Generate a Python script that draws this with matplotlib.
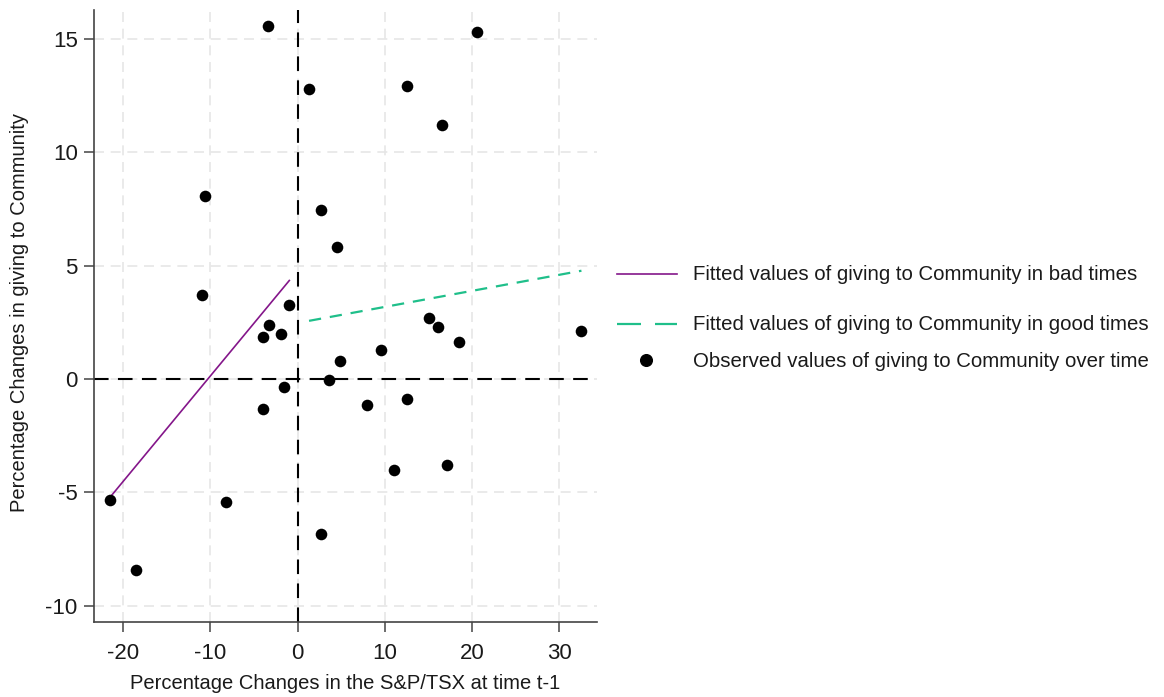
import matplotlib
matplotlib.use("Agg")
import matplotlib.pyplot as plt
from matplotlib.lines import Line2D

plt.rcParams['font.family'] = ['Liberation Sans', 'DejaVu Sans']
plt.rcParams['axes.unicode_minus'] = False

# Observed data: % change in S&P/TSX (t-1) vs % change in giving to Community
tsx_change = [-3.35, 1.32, -10.57, 2.69, -10.99, -0.94, -3.30, -3.96, -1.89, -1.55,
              -3.99, -21.47, -8.17, -18.52, 2.66, 3.57, 20.58, 12.59, 16.61, 4.49,
              15.04, 16.11, 18.56, 32.55, 9.61, 4.87, 7.97, 12.56, 11.03, 17.11]
giving_change = [15.58, 12.79, 8.07, 7.47, 3.72, 3.25, 2.38, 1.87, 2.01, -0.37,
                 -1.31, -5.35, -5.40, -8.40, -6.82, -0.06, 15.29, 12.94, 11.22, 5.81,
                 2.71, 2.28, 1.63, 2.13, 1.28, 0.81, -1.15, -0.87, -4.00, -3.78]

# Fitted lines (endpoints)
bad_fit_x = [-21.47, -0.94]
bad_fit_y = [-5.20, 4.35]
good_fit_x = [1.32, 32.55]
good_fit_y = [2.57, 4.78]

x_ticks = [-20, -10, 0, 10, 20, 30]
y_ticks = [-10, -5, 0, 5, 10, 15]

x_label = "Percentage Changes in the S&P/TSX at time t-1"
y_label = "Percentage Changes in giving to Community"
legend_labels = ["Fitted values of giving to Community in bad times",
                 "Fitted values of giving to Community in good times",
                 "Observed values of giving to Community over time"]

purple = "#84168a"
green = "#1fbf8a"
text_color = "#1a1a1a"

W, H = 1164, 697
fig = plt.figure(figsize=(W / 100, H / 100), dpi=100)
ax = fig.add_axes([94.3 / W, 1 - 621.7 / H, (596.7 - 94.3) / W, (621.7 - 10) / H])

ax.set_xlim(-23.3, 34.3)
ax.set_ylim(-10.7, 16.28)

# grid
for xt in x_ticks:
    ax.axvline(xt, color="#e6e6e6", lw=1.2, dashes=(6, 4), zorder=0)
for yt in y_ticks:
    ax.axhline(yt, color="#e6e6e6", lw=1.2, dashes=(6, 4), zorder=0)

# zero reference lines
ax.axvline(0, color="black", lw=1.5, dashes=(7, 4.5), zorder=2)
ax.axhline(0, color="black", lw=1.5, dashes=(7, 4.5), zorder=2)

ax.plot(bad_fit_x, bad_fit_y, color=purple, lw=1.2, zorder=3)
ax.plot(good_fit_x, good_fit_y, color=green, lw=1.6, dashes=(5.5, 4), zorder=3)
ax.scatter(tsx_change, giving_change, s=70, color="black", zorder=4, linewidths=0)

ax.set_xticks(x_ticks)
ax.set_yticks(y_ticks)
ax.tick_params(axis="both", labelsize=16, length=7, width=1.1, color="#444444",
               labelcolor=text_color)
ax.tick_params(axis="x", pad=8)
ax.tick_params(axis="y", pad=5)
for side in ("top", "right"):
    ax.spines[side].set_visible(False)
for side in ("left", "bottom"):
    ax.spines[side].set_color("#444444")
    ax.spines[side].set_linewidth(1.2)


# figure pixel helpers
def fx(px):
    return px / W


def fy(py):
    return 1 - py / H


fig.text(fx(345.5), fy(689), x_label, fontsize=14.5, color=text_color,
         ha="center", va="baseline")
fig.text(fx(20), fy(313), y_label, fontsize=14.5, color=text_color,
         ha="center", va="center", rotation=90)

# legend
fig.add_artist(Line2D([fx(617), fx(677)], [fy(274), fy(274)], color=purple, lw=1.2))
fig.add_artist(Line2D([fx(617), fx(677)], [fy(324), fy(324)], color=green, lw=1.6,
                      dashes=(10.8, 6.3)))
fig.add_artist(Line2D([fx(645.5)], [fy(360)], marker="o", markersize=8.4,
                      color="black", linestyle="none"))
for label, py in zip(legend_labels, [275, 325, 361.5]):
    fig.text(fx(693), fy(py), label, fontsize=14.7, color=text_color,
             va="center", ha="left")

fig.savefig("out.png", dpi=100)
